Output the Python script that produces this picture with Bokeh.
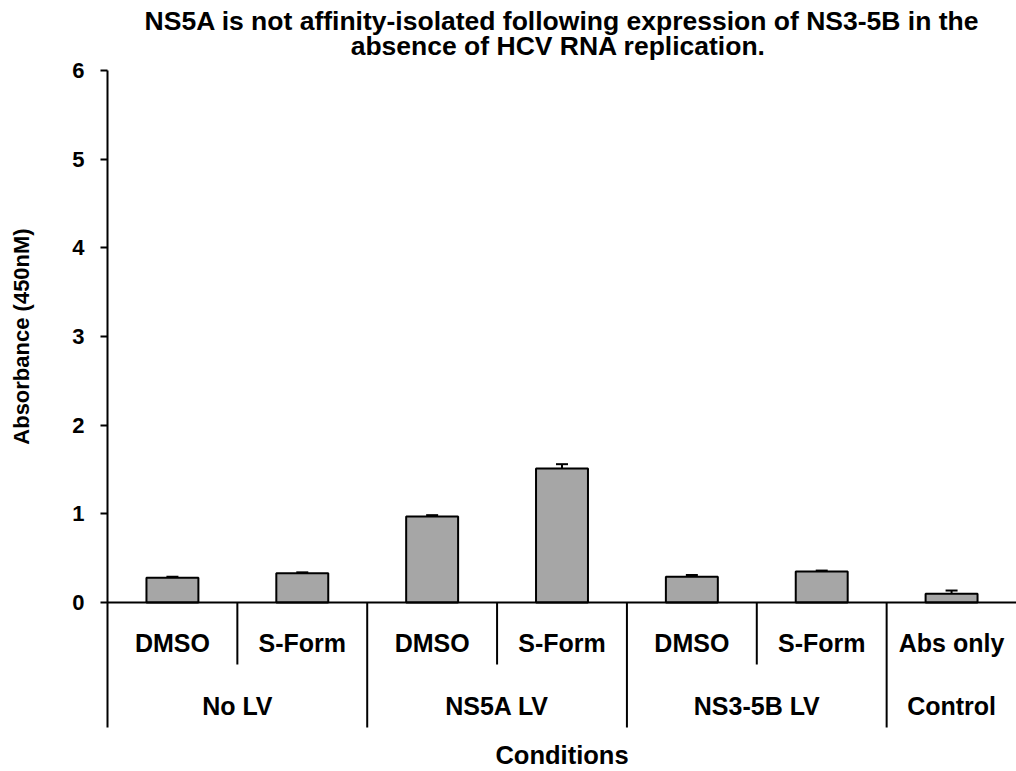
import math
from bokeh.plotting import figure
from bokeh.layouts import row
from bokeh.models import Range1d, FixedTicker, ColumnDataSource, Whisker, TeeHead, Span
from bokeh.core.properties import value
from bokeh.embed import file_html
from bokeh.resources import INLINE

# ---- data ----
conditions = ["DMSO", "S-Form", "DMSO", "S-Form", "DMSO", "S-Form", "Abs only"]
groups = ["No LV", "NS5A LV", "NS3-5B LV", "Control"]
group_sizes = [2, 2, 2, 1]
absorbance = [0.28, 0.33, 0.97, 1.51, 0.29, 0.35, 0.10]
errors = [0.01, 0.01, 0.015, 0.05, 0.02, 0.01, 0.035]
y_ticks = [0, 1, 2, 3, 4, 5, 6]
title_lines = ["NS5A is not affinity-isolated following expression of NS3-5B in the",
               "absence of  HCV RNA replication."]
x_title = "Conditions"
y_title = "Absorbance (450nM)"

FONT = value("Liberation Sans")
n = len(conditions)
W, H = 1016, 771
strip_w = 40                       # width of the strip holding the y title
left_px = 107                      # pixel column of the y axis
top_px, zero_px = 70, 602          # pixel rows of y=6 and y=0
px_per_unit = (zero_px - top_px) / 6.0


def ydata(py):
    """pixel row -> data value"""
    return (zero_px - py) / px_per_unit


y_low = ydata(H)
y_high = ydata(0)
inner_depth = ydata(664)
outer_depth = ydata(727)

# ---- strip with the y-axis title ----
lab = figure(width=strip_w, height=H, output_backend="svg", toolbar_location=None,
             x_range=Range1d(0, strip_w), y_range=Range1d(H, 0),
             x_axis_location=None, y_axis_location=None,
             min_border_left=0, min_border_right=0, min_border_top=0, min_border_bottom=0)
lab.outline_line_color = None
lab.xgrid.visible = False
lab.ygrid.visible = False
lab.text(x=[21], y=[(top_px + zero_px) / 2], text=[y_title], angle=math.pi / 2,
         text_font=FONT, text_font_style="bold", text_font_size="22px",
         text_align="center", text_baseline="middle", text_color="black")

# ---- main chart ----
p = figure(width=W - strip_w, height=H, output_backend="svg", toolbar_location=None,
           x_range=Range1d(0, n), y_range=Range1d(y_low, y_high),
           x_axis_location=None, min_border_left=left_px - strip_w, min_border_right=0,
           min_border_top=0, min_border_bottom=0)
p.outline_line_color = None
p.xgrid.visible = False
p.ygrid.visible = False
p.background_fill_color = "white"
p.border_fill_color = "white"

ax = p.yaxis[0]
ax.ticker = FixedTicker(ticks=y_ticks)
ax.bounds = (outer_depth, 6)
ax.axis_line_width = 2
ax.axis_line_color = "black"
ax.major_tick_line_width = 2
ax.major_tick_out = 7
ax.major_tick_in = 0
ax.minor_tick_line_color = None
ax.major_label_standoff = 16
ax.major_label_text_font = "Liberation Sans"
ax.major_label_text_font_style = "bold"
ax.major_label_text_font_size = "22px"
ax.major_label_text_color = "black"

xs = [i + 0.5 for i in range(n)]
src = ColumnDataSource(dict(x=xs, top=absorbance,
                            upper=[a + e for a, e in zip(absorbance, errors)],
                            lower=[a - e for a, e in zip(absorbance, errors)]))
p.vbar(x="x", top="top", bottom=0, width=0.4, source=src,
       fill_color="#A6A6A6", line_color="black", line_width=2)
p.add_layout(Whisker(base="x", upper="upper", lower="lower", source=src,
                     line_color="black", line_width=2,
                     upper_head=TeeHead(size=12, line_width=2, line_color="black"),
                     lower_head=TeeHead(size=12, line_width=2, line_color="black")))

# baseline
p.add_layout(Span(location=0, dimension="width", line_color="black", line_width=2))

# group separators
bounds = [0]
for s in group_sizes:
    bounds.append(bounds[-1] + s)
inner = []
for gi, s in enumerate(group_sizes):
    for k in range(1, s):
        inner.append(bounds[gi] + k)
p.segment(x0=inner, y0=[0] * len(inner), x1=inner, y1=[inner_depth] * len(inner),
          line_color="black", line_width=2)
outer = bounds[1:-1]
p.segment(x0=outer, y0=[0] * len(outer), x1=outer, y1=[outer_depth] * len(outer),
          line_color="black", line_width=2)

# category labels
p.text(x=xs, y=[ydata(642)] * n, text=conditions, text_font=FONT,
       text_font_style="bold", text_font_size="25px", text_align="center",
       text_baseline="middle", text_color="black")
gx = [(bounds[i] + bounds[i + 1]) / 2 for i in range(len(groups))]
p.text(x=gx, y=[ydata(705)] * len(groups), text=groups, text_font=FONT,
       text_font_style="bold", text_font_size="25px", text_align="center",
       text_baseline="middle", text_color="black")
p.text(x=[n / 2], y=[ydata(754)], text=[x_title], text_font=FONT,
       text_font_style="bold", text_font_size="25.5px", text_align="center",
       text_baseline="middle", text_color="black")

# title
p.text(x=[n / 2, n / 2], y=[ydata(20), ydata(45)], text=title_lines,
       text_font=FONT, text_font_style="bold", text_font_size="26.5px",
       text_align="center", text_baseline="middle", text_color="black")

layout = row(lab, p, spacing=0)
open("out.html", "w").write(file_html(layout, INLINE))
